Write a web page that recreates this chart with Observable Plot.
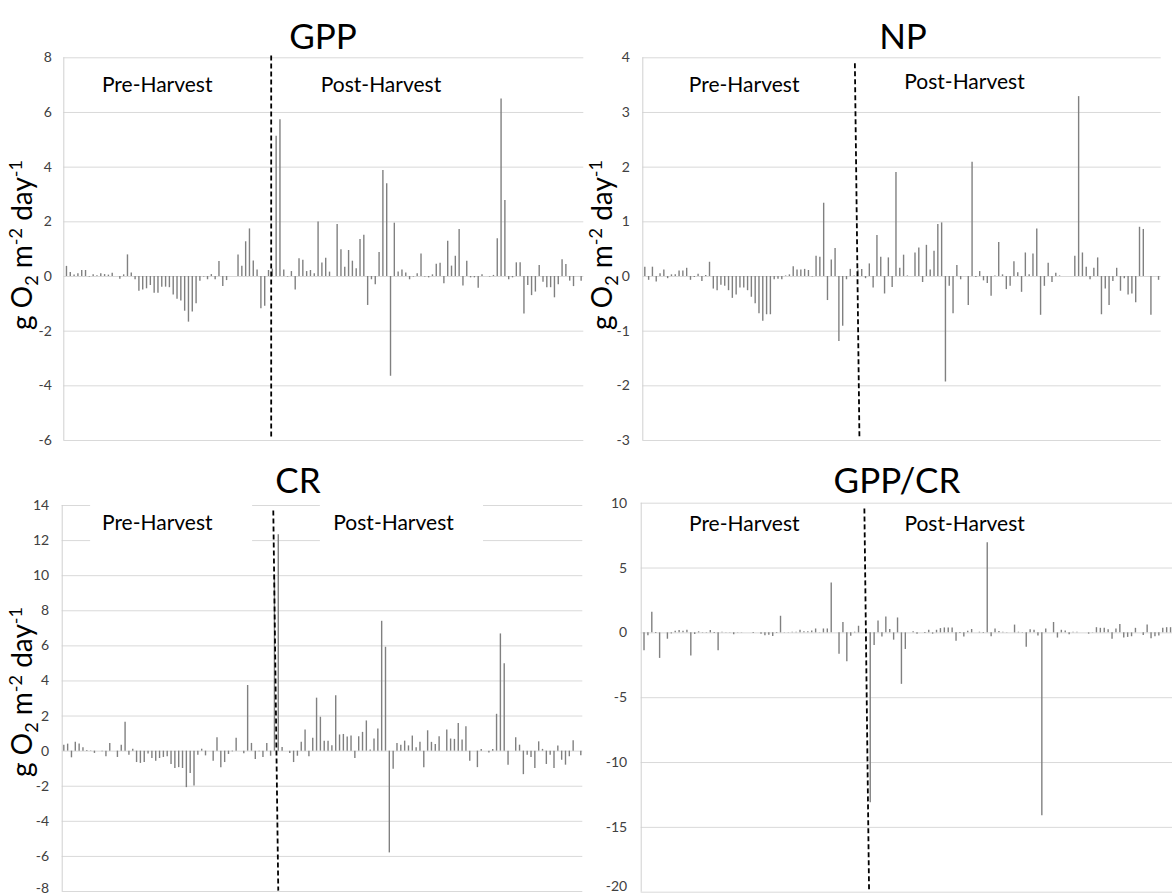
<!DOCTYPE html>
<html><head><meta charset="utf-8">
<script src="https://cdn.jsdelivr.net/npm/d3@7"></script>
<script src="https://cdn.jsdelivr.net/npm/@observablehq/plot@0.6"></script>
<style>
body{margin:0;background:#fff;}
#root{position:relative;width:1172px;height:895px;overflow:hidden;font-family:Lato,"Open Sans",sans-serif;background:#fff;}
.title{position:absolute;font-size:35px;color:#000;transform:translate(-50%,-50%);white-space:nowrap;line-height:1;}
.ylab{position:absolute;font-size:28px;color:#000;transform:translate(-50%,-50%) rotate(-90deg);white-space:nowrap;line-height:1;}
.ylab sub,.ylab sup{font-size:18px;}
.panel{position:absolute;}
</style></head><body><div id="root"></div>
<script>
// ---- data ----
const titles = ["GPP", "NP", "CR", "GPP/CR"];
const phaseLabels = ["Pre-Harvest", "Post-Harvest"];

const gppValues = [
 0.37,0.15,0.05,0.1,0.22,0.22,-0.02,0.06,0.03,0.1,0.07,0.05,0.12,0,-0.1,0.06,0.79,0.13,-0.12,-0.54,
 -0.49,-0.45,-0.33,-0.61,-0.61,-0.39,-0.39,-0.41,-0.68,-0.83,-0.9,-1.27,-1.67,-1.3,-1.0,-0.17,-0.02,-0.12,0.07,-0.12,
 0.55,
 -0.37,-0.15,0,0,0.79,0.37,1.27,1.74,0.57,0.24,-1.18,-1.09,0.22,0.27,5.13,5.73,0.24,-0.02,0.18,-0.49,
 0.65,0.59,0.18,0.22,0.1,1.99,0.49,0.67,0.16,0,1.9,0.98,0.34,0.95,0.56,0.28,1.35,1.51,-1.06,-0.12,
 -0.3,0.88,3.88,3.39,-3.65,1.95,
 0.16,0.24,0.13,-0.12,-0.02,0.1,0.82,-0.02,-0.05,0.06,0.45,0.48,-0.27,1.29,0.38,0.74,1.72,-0.35,0.56,-0.05,
 -0.05,-0.43,0.06,0,-0.02,0.04,1.38,6.49,2.78,-0.12,-0.05,0.5,0.5,-1.37,-0.33,-0.7,-0.57,0.4,-0.21,-0.41,
 -0.41,-0.78,-0.3,0.61,0.44,-0.17,-0.37,0,-0.17
];
const npValues = [
 0.17,-0.07,0.17,-0.1,0.05,0.12,-0.04,0.03,0.03,0.1,0.1,0.15,-0.07,-0.02,0.04,-0.09,0.02,0.26,-0.23,-0.26,
 -0.16,-0.18,-0.26,-0.4,-0.34,-0.21,-0.21,-0.26,-0.38,-0.5,-0.68,-0.82,-0.7,-0.7,-0.06,-0.05,-0.06,0.01,0.03,0.18,
 0.12,
 0.12,0.13,0.11,-0.01,0.37,0.35,1.34,-0.44,0.3,0.51,-1.19,-0.91,-0.06,0.13,0.01,0.12,0.13,-0.04,0.23,-0.21,
 0.75,0.35,-0.32,0.34,-0.2,1.9,0.15,0.39,0.01,0,0.43,0.52,-0.11,0.57,0.12,0.46,0.95,0.98,-1.93,-0.18,
 -0.68,0.2,-0.06,0,-0.53,2.09,
 -0.02,0.09,-0.08,-0.13,-0.36,0.01,0.62,0.03,-0.24,-0.18,0.27,0.07,-0.29,0.43,0.03,0.41,0.87,-0.71,-0.18,0.24,
 -0.11,0.06,0.01,0,0,0,0.37,3.29,0.43,0.17,-0.06,0.15,0.34,-0.7,-0.23,-0.53,-0.09,0.15,-0.27,-0.04,
 -0.34,-0.32,-0.48,0.9,0.86,0,-0.71,0,-0.07
];
const crValues = [
 0.34,0.4,-0.38,0.5,0.4,0.19,0.04,0.02,-0.13,0,-0.04,-0.32,0.44,0,-0.36,0.34,1.64,-0.23,0.11,-0.65,
 -0.7,-0.65,-0.17,-0.42,-0.57,-0.42,-0.36,-0.32,-0.76,-0.99,-0.94,-0.99,-2.08,-1.28,-1.98,-0.23,0.11,-0.27,0,-0.57,
 0.76,
 -0.95,-0.65,-0.19,-0.04,0.73,0,-0.15,3.74,0.44,-0.48,-0.04,-0.36,0.44,-0.29,10.04,12.33,0.21,0,-0.13,-0.65,
 -0.29,0.5,1.2,-0.32,0.73,3.02,1.93,0.57,0.57,0.31,3.15,0.92,0.95,0.8,0.86,-0.42,0.82,1.07,1.72,0.06,
 0.69,1.26,7.4,5.92,-5.8,-1.03,
 0.44,0.34,0.57,0.3,0.86,0.19,0.5,-0.95,1.16,0.5,0.38,0.82,0,1.2,0.69,0.67,1.58,0.63,1.39,-0.57,
 0,-0.94,0.1,0,-0.1,0.1,2.1,6.68,4.98,-0.8,0,0.76,0.34,-1.34,-0.23,-0.36,-0.99,0.53,0.1,-0.76,
 -0.23,-0.99,0.29,-0.52,-0.8,-0.32,0.59,0,-0.27
];
const ratioValues = [
 -1.38,-0.23,1.59,-0.05,-1.97,0,-0.49,-0.08,0.13,0.18,0.13,0.2,-1.79,-0.13,0.08,0.03,-0.03,0.18,-0.05,-1.38,
 0.05,0.03,0.02,-0.15,0.02,0.02,0,0,-0.05,0,-0.1,-0.23,-0.18,-0.28,-0.05,1.28,0.02,0.02,0.05,0.05,
 0.2,
 0.08,0.08,0.15,0.3,0.02,0.3,0.3,3.85,0,-1.64,0.8,-2.23,-0.26,0.05,0.51,0,0.1,-13.1,-0.97,0.92,
 -0.31,1.23,0.26,-0.56,1.15,-3.97,-1.28,0,0.08,-0.1,0,-0.05,0.2,-0.1,0.2,0.33,0.38,0.38,0.38,-0.64,
 -0.05,-0.31,0.13,0.26,0,
 0.05,-0.05,6.95,-0.3,0.3,0.1,0.05,0.03,0,0.6,0.05,0.03,-1.1,0.25,0.2,-0.25,-14.1,0.3,0,0.8,
 -0.4,0.2,0.15,-0.15,0.05,0.05,0,0,-0.1,0.02,0.4,0.35,0.35,0.25,-0.5,0.3,0.65,-0.4,-0.35,-0.3,
 0.35,0,-0.2,0.6,-0.45,-0.3,-0.25,0.35,0.4,0.4
];

const ticksGPP = [-6,-4,-2,0,2,4,6,8];
const ticksNP = [-3,-2,-1,0,1,2,3,4];
const ticksCR = [-8,-6,-4,-2,0,2,4,6,8,10,12,14];
const ticksRatio = [-20,-15,-10,-5,0,5,10];

// harvest divider (x in day index, y in value units)
const harvestGPP = {x1:53.7, y1:8.08, x2:53.7, y2:-5.93};
const harvestNP = {x1:55.2, y1:3.9, x2:56.4, y2:-2.96};
const harvestCR = {x1:54.7, y1:13.71, x2:56.0, y2:-7.95};
const harvestRatio = {x1:56.5, y1:9.6, x2:57.7, y2:-19.87};

// phase label anchors (x in day index, y in value units)
const labelsGPP = [{x:23.8, y:7.0}, {x:82.5, y:7.0}];
const labelsNP = [{x:26.1, y:3.49}, {x:84.0, y:3.55}];
const labelsCR = [{x:24.4, y:13.0}, {x:86.1, y:13.0}];
const labelsRatio = [{x:25.7, y:8.4}, {x:82.2, y:8.4}];
const boxesCR = [{x1:7.0, x2:49.3, y1:11.5, y2:14.4}, {x1:67.0, x2:109.6, y1:11.5, y2:14.4}];

// ---- layout ----
const panels = [
  {title:titles[0], values:gppValues, ticks:ticksGPP, harvest:harvestGPP, labels:labelsGPP, boxes:null,
   left:0, top:0, w:590, h:448, ml:63.3, mr:6.7, mt:57.3, mb:8, xDomain:[-0.7,135.7], pad:12, bottomDy:0,
   tx:323, ty:35, ylab:{x:23, y:245}},
  {title:titles[1], values:npValues, ticks:ticksNP, harvest:harvestNP, labels:labelsNP, boxes:null,
   left:590, top:0, w:582, h:448, ml:52.3, mr:11.3, mt:57.3, mb:8, xDomain:[-0.53,135.7], pad:13, bottomDy:0,
   tx:903, ty:35, ylab:{x:603, y:245}},
  {title:titles[2], values:crValues, ticks:ticksCR, harvest:harvestCR, labels:labelsCR, boxes:boxesCR,
   left:0, top:448, w:590, h:447, ml:61.7, mr:7.7, mt:57, mb:4, xDomain:[-0.42,135.52], pad:13, bottomDy:-3,
   tx:298, ty:479, ylab:{x:23, y:692}},
  {title:titles[3], values:ratioValues, ticks:ticksRatio, harvest:harvestRatio, labels:labelsRatio, boxes:null,
   left:590, top:448, w:582, h:447, ml:50.7, mr:0, mt:54.7, mb:3.3, xDomain:[-0.72,135.5], pad:14, bottomDy:-6,
   tx:897, ty:479, ylab:null}
];

const root = document.getElementById("root");

for (const p of panels) {
  const data = p.values.map((v, i) => ({i, v}));
  const labs = p.labels.map((d, k) => ({...d, text: phaseLabels[k]}));
  const bottomTick = p.ticks[0];
  const upperTicks = p.ticks.slice(1);
  const marks = [
    Plot.ruleY(p.ticks, {stroke:"#d9d9d9", strokeWidth:1}),
    Plot.ruleX([p.xDomain[0]], {stroke:"#d0d0d0", strokeWidth:1}),
  ];
  if (p.boxes) marks.push(Plot.rect(p.boxes, {x1:"x1", x2:"x2", y1:"y1", y2:"y2", fill:"white"}));
  marks.push(
    Plot.ruleX(data, {x:"i", y1:0, y2:"v", stroke:"#808080", strokeWidth:1.4}),
    Plot.link([p.harvest], {x1:"x1", y1:"y1", x2:"x2", y2:"y2", stroke:"#000", strokeWidth:1.8, strokeDasharray:"5,3"}),
    Plot.text(labs, {x:"x", y:"y", text:"text", fontSize:21, fill:"#000"}),
    Plot.axisY(upperTicks, {tickSize:0, tickPadding:p.pad, tickFormat:d => String(d), label:null, fill:"#404040", fontSize:14}),
    Plot.axisY([bottomTick], {tickSize:0, tickPadding:p.pad, tickFormat:d => String(d), label:null, fill:"#404040", fontSize:14, dy:p.bottomDy})
  );
  const svg = Plot.plot({
    width:p.w, height:p.h,
    marginLeft:p.ml, marginRight:p.mr, marginTop:p.mt, marginBottom:p.mb,
    style:{fontFamily:"Lato, 'Open Sans', sans-serif", fontSize:"14px", background:"transparent", overflow:"visible", color:"#404040"},
    x:{type:"linear", domain:p.xDomain, axis:null},
    y:{domain:[p.ticks[0], p.ticks[p.ticks.length-1]], axis:null},
    marks
  });
  const div = document.createElement("div");
  div.className = "panel";
  div.style.left = p.left + "px";
  div.style.top = p.top + "px";
  div.style.width = p.w + "px";
  div.style.height = p.h + "px";
  div.appendChild(svg);
  root.appendChild(div);

  const t = document.createElement("div");
  t.className = "title";
  t.style.left = p.tx + "px";
  t.style.top = p.ty + "px";
  t.textContent = p.title;
  root.appendChild(t);

  if (p.ylab) {
    const yl = document.createElement("div");
    yl.className = "ylab";
    yl.style.left = p.ylab.x + "px";
    yl.style.top = p.ylab.y + "px";
    yl.innerHTML = "g O<sub>2</sub> m<sup>-2</sup> day<sup>-1</sup>";
    root.appendChild(yl);
  }
}
</script>
</body></html>
